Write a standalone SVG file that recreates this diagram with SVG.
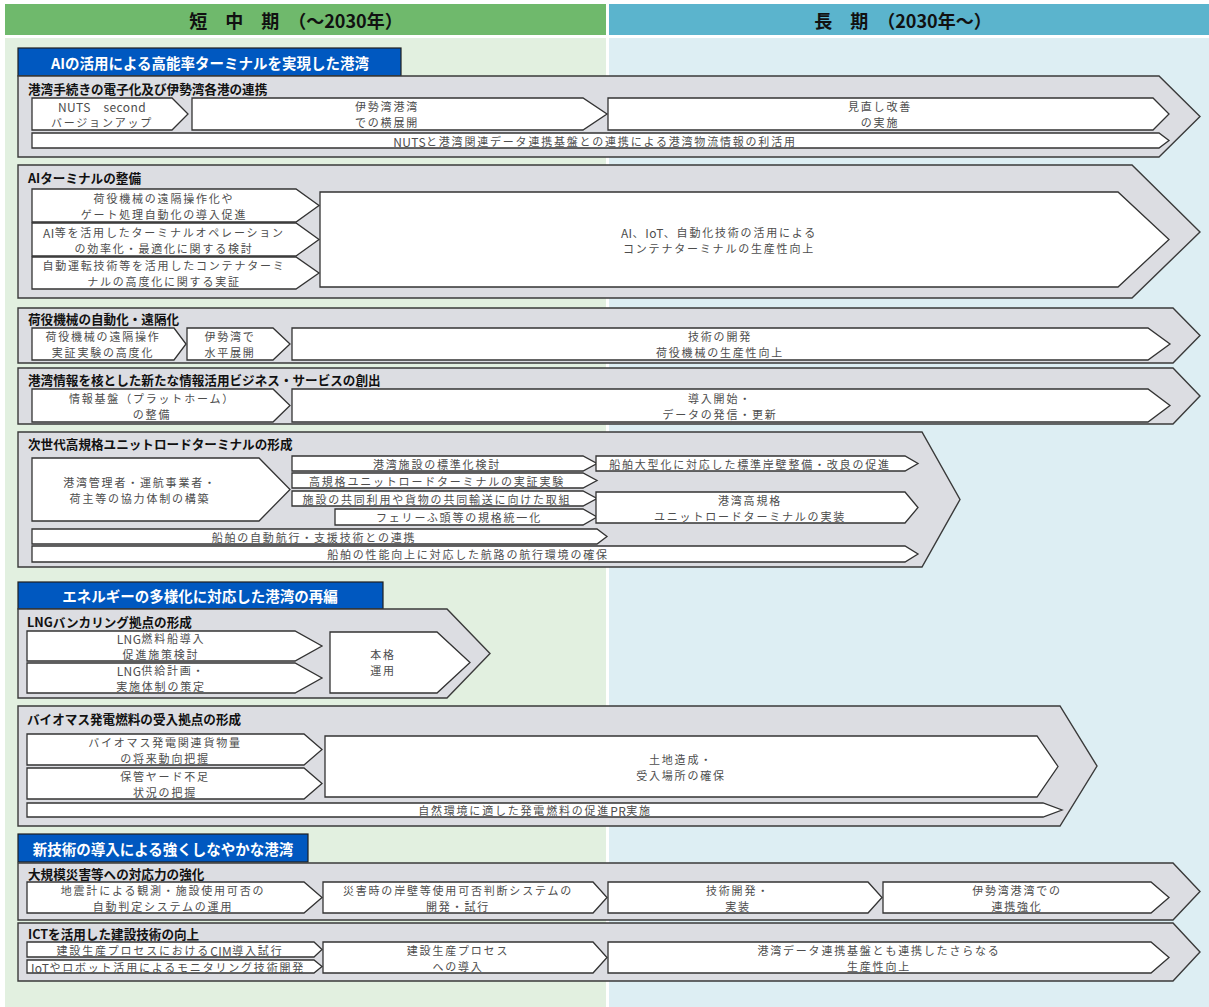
<svg xmlns="http://www.w3.org/2000/svg" width="1209" height="1007" viewBox="0 0 1209 1007">
<style>
.hg{fill:#6fb96c}
.hb{fill:#5bb4cd}
.pg{fill:#e2f0e0}
.pb{fill:#ddeef3}
.sec{fill:#0058c0;stroke:#1e1e1e;stroke-width:1.2}
.grp{fill:#dcdde2;stroke:#3a3a3a;stroke-width:1.4}
.box{fill:#fff;stroke:#333;stroke-width:1.3}
text{font-family:"Noto Sans CJK JP","Noto Sans",sans-serif;dominant-baseline:central}
.t{font-size:11px;letter-spacing:1.8px;fill:#4d4d4d;text-anchor:middle}
.l{letter-spacing:0.4px;font-size:12px}
.tt{font-size:12.6px;font-weight:bold;fill:#111}
.st{font-size:14.5px;font-weight:bold;fill:#fff;text-anchor:middle}
.ht{font-size:18px;font-weight:bold;fill:#111;text-anchor:middle}
</style>
<rect width="1209" height="1007" fill="#fff"/>
<g id="header">
<rect class="hg" x="5" y="4" width="601" height="31"/>
<rect class="hb" x="609" y="4" width="600" height="31"/>
<rect class="pg" x="5" y="38" width="601" height="969"/>
<rect class="pb" x="609" y="38" width="600" height="969"/>
<text class="ht" x="296" y="19.5">短　中　期　（～2030年）</text>
<text class="ht" x="903" y="19.5">長　期　（2030年～）</text>
</g>
<g id="connectors"></g>

<g id="sec1">
<rect class="sec" x="18" y="48" width="383" height="28"/>
<text class="st" x="210" y="62">AIの活用による高能率ターミナルを実現した港湾</text>
</g>

<g id="ch1">
<path class="grp" d="M18 76 H1159 L1200 116.5 L1159 157 H18 Z"/>
<text class="tt" x="28" y="88.5">港湾手続きの電子化及び伊勢湾各港の連携</text>
<path class="box" d="M32 98 H172 L188 114 L172 130 H32 Z"/>
<text class="t" x="102" y="106"><tspan class="l">NUTS</tspan>　<tspan class="l">second</tspan></text>
<text class="t" x="102" y="122">バージョンアップ</text>
<path class="box" d="M192 98 H583 L607 114 L583 130 H192 Z"/>
<text class="t" x="387" y="106">伊勢湾港湾</text>
<text class="t" x="387" y="122">での横展開</text>
<path class="box" d="M608 98 H1153 L1169 114 L1153 130 H608 Z"/>
<text class="t" x="880" y="106">見直し改善</text>
<text class="t" x="880" y="122">の実施</text>
<path class="box" d="M32 133 H1159 L1169 140.5 L1159 148 H32 Z"/>
<text class="t" x="595" y="140.5"><tspan class="l">NUTS</tspan>と港湾関連データ連携基盤との連携による港湾物流情報の利活用</text>
</g>

<g id="ch2">
<path class="grp" d="M18 165 H1132 L1200 232 L1132 298 H18 Z"/>
<text class="tt" x="28" y="177">AIターミナルの整備</text>
<path class="box" d="M32 189 H296 L319 205.5 L296 222 H32 Z"/>
<text class="t" x="164" y="197.5">荷役機械の遠隔操作化や</text>
<text class="t" x="164" y="213.5">ゲート処理自動化の導入促進</text>
<path class="box" d="M32 223 H296 L319 239.5 L296 256 H32 Z"/>
<text class="t" x="164" y="231.5"><tspan class="l">AI</tspan>等を活用したターミナルオペレーション</text>
<text class="t" x="164" y="247.5">の効率化・最適化に関する検討</text>
<path class="box" d="M32 257 H296 L319 273 L296 289 H32 Z"/>
<text class="t" x="164" y="265">自動運転技術等を活用したコンテナターミ</text>
<text class="t" x="164" y="281">ナルの高度化に関する実証</text>
<path class="box" d="M320 192 H1118 L1169 239.5 L1118 287 H320 Z"/>
<text class="t" x="719" y="231.5"><tspan class="l">AI</tspan>、<tspan class="l">IoT</tspan>、自動化技術の活用による</text>
<text class="t" x="719" y="247.5">コンテナターミナルの生産性向上</text>
</g>

<g id="ch3">
<path class="grp" d="M18 308 H1173 L1200 335.5 L1173 363 H18 Z"/>
<text class="tt" x="28" y="318.5">荷役機械の自動化・遠隔化</text>
<path class="box" d="M32 328 H174 L186 344 L174 360 H32 Z"/>
<text class="t" x="103" y="336">荷役機械の遠隔操作</text>
<text class="t" x="103" y="352">実証実験の高度化</text>
<path class="box" d="M187 328 H273 L290 344 L273 360 H187 Z"/>
<text class="t" x="230" y="336">伊勢湾で</text>
<text class="t" x="230" y="352">水平展開</text>
<path class="box" d="M292 328 H1148 L1170 344 L1148 360 H292 Z"/>
<text class="t" x="720" y="336">技術の開発</text>
<text class="t" x="720" y="352">荷役機械の生産性向上</text>
</g>

<g id="ch4">
<path class="grp" d="M18 368 H1173 L1200 396 L1173 424 H18 Z"/>
<text class="tt" x="28" y="379.5">港湾情報を核とした新たな情報活用ビジネス・サービスの創出</text>
<path class="box" d="M32 389 H273 L290 405.5 L273 422 H32 Z"/>
<text class="t" x="152" y="397.5">情報基盤（プラットホーム）</text>
<text class="t" x="152" y="413.5">の整備</text>
<path class="box" d="M292 389 H1148 L1170 405.5 L1148 422 H292 Z"/>
<text class="t" x="720" y="397.5">導入開始・</text>
<text class="t" x="720" y="413.5">データの発信・更新</text>
</g>

<g id="ch5">
<path class="grp" d="M18 432 H922 L960 499.5 L922 567 H18 Z"/>
<text class="tt" x="28" y="443">次世代高規格ユニットロードターミナルの形成</text>
<path class="box" d="M32 458 H259 L290 489.5 L259 521 H32 Z"/>
<text class="t" x="140" y="481.5">港湾管理者・運航事業者・</text>
<text class="t" x="140" y="497.5">荷主等の協力体制の構築</text>
<path class="box" d="M292 456 H583 L597 463.5 L583 471 H292 Z"/>
<text class="t" x="437" y="463.5">港湾施設の標準化検討</text>
<path class="box" d="M292 473 H583 L597 480.5 L583 488 H292 Z"/>
<text class="t" x="437" y="480.5">高規格ユニットロードターミナルの実証実験</text>
<path class="box" d="M292 491 H583 L597 498.5 L583 506 H292 Z"/>
<text class="t" x="437" y="498.5">施設の共同利用や貨物の共同輸送に向けた取組</text>
<path class="box" d="M335 509 H583 L597 517 L583 525 H335 Z"/>
<text class="t" x="459" y="517">フェリーふ頭等の規格統一化</text>
<path class="box" d="M596 456 H905 L918 463.5 L905 471 H596 Z"/>
<text class="t" x="750" y="463.5">船舶大型化に対応した標準岸壁整備・改良の促進</text>
<path class="box" d="M596 492 H905 L918 507.5 L905 523 H596 Z"/>
<text class="t" x="750" y="499.5">港湾高規格</text>
<text class="t" x="750" y="515.5">ユニットロードターミナルの実装</text>
<path class="box" d="M32 529 H597 L607 536.5 L597 544 H32 Z"/>
<text class="t" x="314" y="536.5">船舶の自動航行・支援技術との連携</text>
<path class="box" d="M32 546 H905 L918 554 L905 562 H32 Z"/>
<text class="t" x="468" y="554">船舶の性能向上に対応した航路の航行環境の確保</text>
</g>

<g id="sec2">
<rect class="sec" x="18" y="582" width="365" height="27"/>
<text class="st" x="200" y="595.5">エネルギーの多様化に対応した港湾の再編</text>
</g>

<g id="ch6">
<path class="grp" d="M18 609 H447 L490 653.5 L447 698 H18 Z"/>
<text class="tt" x="27" y="621.5">LNGバンカリング拠点の形成</text>
<path class="box" d="M27 631 H295 L322 646 L295 661 H27 Z"/>
<text class="t" x="161" y="638"><tspan class="l">LNG</tspan>燃料船導入</text>
<text class="t" x="161" y="654">促進施策検討</text>
<path class="box" d="M27 663 H295 L322 678 L295 693 H27 Z"/>
<text class="t" x="161" y="670"><tspan class="l">LNG</tspan>供給計画・</text>
<text class="t" x="161" y="686">実施体制の策定</text>
<path class="box" d="M330 632 H437 L470 662.5 L437 693 H330 Z"/>
<text class="t" x="383" y="654">本格</text>
<text class="t" x="383" y="670">運用</text>
</g>

<g id="ch7">
<path class="grp" d="M18 706 H1060 L1097 766 L1060 826 H18 Z"/>
<text class="tt" x="27" y="718">バイオマス発電燃料の受入拠点の形成</text>
<path class="box" d="M27 734 H304 L322 749.5 L304 765 H27 Z"/>
<text class="t" x="165" y="741.5">バイオマス発電関連貨物量</text>
<text class="t" x="165" y="757.5">の将来動向把握</text>
<path class="box" d="M27 768 H304 L322 783.5 L304 799 H27 Z"/>
<text class="t" x="165" y="775.5">保管ヤード不足</text>
<text class="t" x="165" y="791.5">状況の把握</text>
<path class="box" d="M325 736 H1037 L1058 766.5 L1037 797 H325 Z"/>
<text class="t" x="681" y="758.5">土地造成・</text>
<text class="t" x="681" y="774.5">受入場所の確保</text>
<path class="box" d="M27 803 H1043 L1062 810 L1043 817 H27 Z"/>
<text class="t" x="535" y="810">自然環境に適した発電燃料の促進<tspan class="l">PR</tspan>実施</text>
</g>

<g id="sec3">
<rect class="sec" x="18" y="834" width="290" height="28"/>
<text class="st" x="163" y="848">新技術の導入による強くしなやかな港湾</text>
</g>

<g id="ch8">
<path class="grp" d="M18 863 H1173 L1200 891.5 L1173 920 H18 Z"/>
<text class="tt" x="28" y="873.5">大規模災害等への対応力の強化</text>
<path class="box" d="M27 882 H304 L322 897.5 L304 913 H27 Z"/>
<text class="t" x="163" y="889.5">地震計による観測・施設使用可否の</text>
<text class="t" x="163" y="905.5">自動判定システムの運用</text>
<path class="box" d="M323 882 H593 L607 897.5 L593 913 H323 Z"/>
<text class="t" x="458" y="889.5">災害時の岸壁等使用可否判断システムの</text>
<text class="t" x="458" y="905.5">開発・試行</text>
<path class="box" d="M608 882 H868 L882 897.5 L868 913 H608 Z"/>
<text class="t" x="738" y="889.5">技術開発・</text>
<text class="t" x="738" y="905.5">実装</text>
<path class="box" d="M883 882 H1151 L1169 897.5 L1151 913 H883 Z"/>
<text class="t" x="1017" y="889.5">伊勢湾港湾での</text>
<text class="t" x="1017" y="905.5">連携強化</text>
</g>

<g id="ch9">
<path class="grp" d="M18 923 H1173 L1200 952 L1173 981 H18 Z"/>
<text class="tt" x="28" y="933.5">ICTを活用した建設技術の向上</text>
<path class="box" d="M27 942 H314 L322 949.5 L314 957 H27 Z"/>
<text class="t" x="170" y="949.5">建設生産プロセスにおける<tspan class="l">CIM</tspan>導入試行</text>
<path class="box" d="M27 960 H314 L322 966.5 L314 973 H27 Z"/>
<text class="t" x="168" y="966.5"><tspan class="l">IoT</tspan>やロボット活用によるモニタリング技術開発</text>
<path class="box" d="M323 942 H593 L607 957.5 L593 973 H323 Z"/>
<text class="t" x="458" y="949.5">建設生産プロセス</text>
<text class="t" x="458" y="965.5">への導入</text>
<path class="box" d="M608 942 H1151 L1169 957.5 L1151 973 H608 Z"/>
<text class="t" x="879" y="949.5">港湾データ連携基盤とも連携したさらなる</text>
<text class="t" x="879" y="965.5">生産性向上</text>
</g>
</svg>
